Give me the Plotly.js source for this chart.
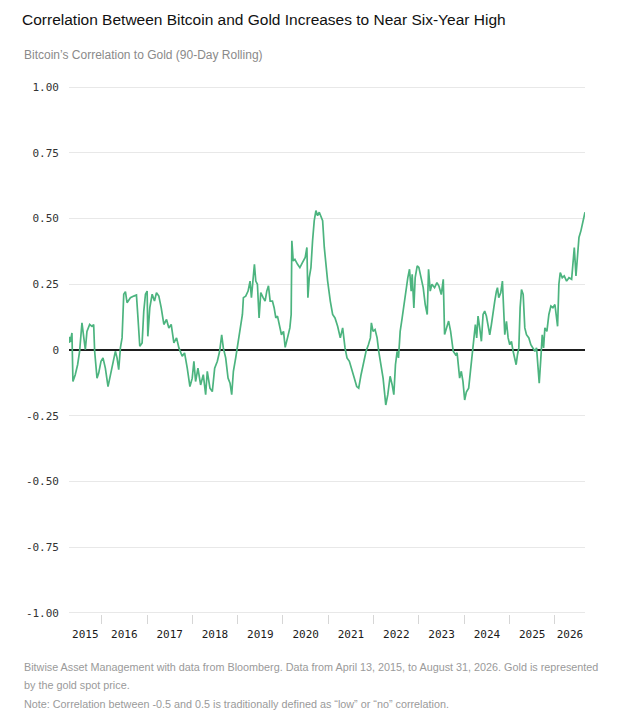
<!DOCTYPE html>
<html>
<head>
<meta charset="utf-8">
<script src="https://cdn.plot.ly/plotly-3.0.1.min.js"></script>
<style>
  html, body { margin: 0; padding: 0; background: #fff; }
  #chart { width: 623px; height: 717px; }
</style>
</head>
<body>
<div id="chart"></div>
<script>
// decimal year of each reading (data runs Apr 13 2015 to Aug 31 2026)
var years = [
  2015.279, 2015.290, 2015.307, 2015.344, 2015.366, 2015.417, 2015.469, 2015.513, 2015.565, 2015.602,
  2015.639, 2015.675, 2015.735, 2015.786, 2015.823, 2015.845, 2015.897, 2015.934, 2015.985, 2016.029,
  2016.081, 2016.140, 2016.192, 2016.251, 2016.302, 2016.339, 2016.376, 2016.413, 2016.450, 2016.487,
  2016.524, 2016.560, 2016.634, 2016.708, 2016.767, 2016.796, 2016.841, 2016.892, 2016.929, 2016.966,
  2017.003, 2017.018, 2017.062, 2017.114, 2017.165, 2017.209, 2017.261, 2017.313, 2017.372, 2017.431,
  2017.482, 2017.534, 2017.593, 2017.652, 2017.704, 2017.777, 2017.829, 2017.888, 2017.947, 2017.998,
  2018.035, 2018.072, 2018.124, 2018.183, 2018.242, 2018.294, 2018.330, 2018.389, 2018.441, 2018.493,
  2018.552, 2018.603, 2018.648, 2018.684, 2018.736, 2018.788, 2018.832, 2018.869, 2018.906, 2018.957,
  2018.994, 2019.031, 2019.068, 2019.105, 2019.127, 2019.178, 2019.230, 2019.274, 2019.304, 2019.348,
  2019.370, 2019.400, 2019.436, 2019.473, 2019.510, 2019.562, 2019.606, 2019.643, 2019.680, 2019.717,
  2019.768, 2019.805, 2019.842, 2019.879, 2019.916, 2019.967, 2020.012, 2020.049, 2020.100, 2020.152,
  2020.181, 2020.196, 2020.226, 2020.263, 2020.322, 2020.373, 2020.432, 2020.491, 2020.528, 2020.550,
  2020.580, 2020.617, 2020.653, 2020.690, 2020.727, 2020.764, 2020.801, 2020.838, 2020.875, 2020.912,
  2020.950, 2020.985, 2021.044, 2021.096, 2021.148, 2021.206, 2021.265, 2021.317, 2021.369, 2021.413,
  2021.465, 2021.516, 2021.575, 2021.627, 2021.671, 2021.723, 2021.782, 2021.833, 2021.885, 2021.929,
  2021.951, 2021.988, 2022.032, 2022.077, 2022.113, 2022.165, 2022.209, 2022.239, 2022.268, 2022.313,
  2022.364, 2022.409, 2022.446, 2022.482, 2022.519, 2022.549, 2022.586, 2022.630, 2022.681, 2022.718,
  2022.755, 2022.792, 2022.829, 2022.851, 2022.888, 2022.917, 2022.962, 2022.998, 2023.050, 2023.094,
  2023.139, 2023.183, 2023.212, 2023.249, 2023.286, 2023.345, 2023.397, 2023.441, 2023.493, 2023.537,
  2023.566, 2023.603, 2023.655, 2023.699, 2023.757, 2023.809, 2023.842, 2023.861, 2023.898, 2023.935,
  2023.972, 2024.009, 2024.046, 2024.097, 2024.142, 2024.178, 2024.215, 2024.245, 2024.274, 2024.304,
  2024.341, 2024.378, 2024.415, 2024.451, 2024.488, 2024.525, 2024.562, 2024.599, 2024.636, 2024.673,
  2024.710, 2024.732, 2024.761, 2024.805, 2024.842, 2024.864, 2024.894, 2024.931, 2024.968, 2025.004,
  2025.041, 2025.078, 2025.115, 2025.145, 2025.174, 2025.204, 2025.233, 2025.263, 2025.300, 2025.336,
  2025.373, 2025.425, 2025.469, 2025.521, 2025.558, 2025.595, 2025.632, 2025.654, 2025.690, 2025.720,
  2025.750, 2025.779, 2025.823, 2025.867, 2025.912, 2025.956, 2026.000, 2026.037, 2026.059, 2026.088,
  2026.118, 2026.162, 2026.206, 2026.258, 2026.310, 2026.369, 2026.406, 2026.428, 2026.465, 2026.501,
  2026.531, 2026.575, 2026.604, 2026.634, 2026.664
];

var corr = [
  0.027, 0.05, 0.03, 0.065, -0.12, -0.094, -0.056, -0.005, 0.103, 0.046,
  0.001, 0.071, 0.097, 0.09, 0.097, -0.005, -0.107, -0.088, -0.043, -0.03,
  -0.069, -0.139, -0.094, -0.043, -0.005, -0.03, -0.075, 0.008, 0.046, 0.212,
  0.222, 0.18, 0.199, 0.205, 0.209, 0.135, 0.014, 0.027, 0.148, 0.212,
  0.224, 0.052, 0.161, 0.212, 0.186, 0.218, 0.205, 0.161, 0.097, 0.116,
  0.084, 0.097, 0.027, 0.046, 0.008, -0.024, -0.011, -0.069, -0.139, -0.107,
  -0.043, -0.12, -0.069, -0.133, -0.094, -0.17, -0.081, -0.145, -0.158, -0.069,
  -0.043, -0.005, 0.058, 0.008, -0.03, -0.107, -0.126, -0.17, -0.081, -0.03,
  0.008, 0.046, 0.091, 0.135, 0.199, 0.205, 0.224, 0.262, 0.199, 0.288,
  0.326, 0.262, 0.25, 0.122, 0.218, 0.199, 0.186, 0.224, 0.244, 0.186,
  0.186, 0.161, 0.122, 0.129, 0.103, 0.058, 0.071, 0.01, 0.046, 0.084,
  0.135, 0.415, 0.339, 0.345, 0.326, 0.313, 0.333, 0.352, 0.39, 0.199,
  0.275, 0.313, 0.415, 0.492, 0.53, 0.511, 0.524, 0.511, 0.492, 0.39,
  0.313, 0.263, 0.186, 0.135, 0.122, 0.09, 0.046, 0.084, 0.008, -0.03,
  -0.043, -0.069, -0.107, -0.139, -0.145, -0.094, -0.043, -0.005, 0.02, 0.046,
  0.103, 0.071, 0.078, 0.046, -0.005, -0.056, -0.107, -0.158, -0.209, -0.17,
  -0.1, -0.132, -0.17, -0.056, -0.005, -0.03, 0.071, 0.122, 0.186, 0.237,
  0.275, 0.307, 0.224, 0.288, 0.16, 0.275, 0.32, 0.314, 0.275, 0.237,
  0.173, 0.135, 0.307, 0.224, 0.25, 0.237, 0.256, 0.243, 0.211, 0.269,
  0.059, 0.084, 0.11, 0.071, -0.005, -0.018, -0.011, -0.043, -0.107, -0.081,
  -0.12, -0.19, -0.16, -0.145, -0.069, 0.008, 0.058, 0.097, 0.046, 0.129,
  0.084, 0.033, 0.135, 0.148, 0.129, 0.084, 0.058, 0.097, 0.148, 0.186,
  0.224, 0.237, 0.199, 0.218, 0.262, 0.186, 0.058, 0.109, 0.046, 0.02,
  0.033, -0.005, -0.03, -0.056, -0.018, 0.008, 0.161, 0.23, 0.211, 0.084,
  0.058, 0.046, 0.02, 0.008, -0.005, 0.008, -0.081, -0.126, -0.03, 0.058,
  0.008, 0.084, 0.071, 0.135, 0.167, 0.161, 0.173, 0.109, 0.09, 0.25,
  0.294, 0.275, 0.282, 0.262, 0.275, 0.269, 0.339, 0.39, 0.282, 0.352,
  0.428, 0.454, 0.479, 0.511, 0.524
];

var yearLabels = ['2015', '2016', '2017', '2018', '2019', '2020', '2021', '2022', '2023', '2024', '2025', '2026'];
var yearStarts = [2016, 2017, 2018, 2019, 2020, 2021, 2022, 2023, 2024, 2025, 2026];
var yTickVals = [1, 0.75, 0.5, 0.25, 0, -0.25, -0.5, -0.75, -1];
var yTickText = ['1.00', '0.75', '0.50', '0.25', '0', '-0.25', '-0.50', '-0.75', '-1.00'];

var xStart = years[0];
var xEnd = years[years.length - 1];

// year label sits in the middle of the visible part of each year
var labelPos = yearLabels.map(function (y) {
  var a = Math.max(+y, xStart);
  var b = Math.min(+y + 1, xEnd);
  return (a + b) / 2;
});

var trace = {
  x: years,
  y: corr,
  type: 'scatter',
  mode: 'lines',
  line: { color: '#4cb47f', width: 1.7 },
  hoverinfo: 'x+y'
};

// empty trace so the label axis is drawn
var labelTrace = { x: [], y: [], xaxis: 'x2', type: 'scatter', mode: 'lines', hoverinfo: 'skip', showlegend: false };

var noteFont = { family: 'Liberation Sans, Arial, sans-serif', size: 10.8, color: '#9a9a9a' };
var left = -47 / 516;

var layout = {
  width: 623,
  height: 717,
  margin: { l: 69, r: 38, t: 86, b: 103 },
  paper_bgcolor: '#fff',
  plot_bgcolor: '#fff',
  showlegend: false,
  title: {
    text: 'Correlation Between Bitcoin and Gold Increases to Near Six-Year High',
    x: 22 / 623, xanchor: 'left', xref: 'container',
    y: 1 - 20 / 717, yanchor: 'middle', yref: 'container',
    font: { family: 'Liberation Sans, Arial, sans-serif', size: 15.5, color: '#111' }
  },
  xaxis: {
    range: [xStart, xEnd],
    tickvals: yearStarts,
    showticklabels: false,
    ticks: 'outside',
    ticklen: 9,
    tickwidth: 1,
    tickcolor: '#d6d6d6',
    showgrid: false,
    zeroline: false,
    showline: false
  },
  xaxis2: {
    overlaying: 'x',
    anchor: 'y',
    side: 'bottom',
    range: [xStart, xEnd],
    tickvals: labelPos,
    ticktext: yearLabels,
    ticks: '',
    ticklabelstandoff: 12,
    showgrid: false,
    zeroline: false,
    showline: false,
    tickfont: { family: 'DejaVu Sans Mono, monospace', size: 11, color: '#1a1a1a' }
  },
  yaxis: {
    range: [-1.004, 1.004],
    tickvals: yTickVals,
    ticktext: yTickText,
    ticks: '',
    ticklabelstandoff: 9,
    showgrid: true,
    gridcolor: '#e8e8e8',
    gridwidth: 1,
    zeroline: true,
    zerolinecolor: '#1e1e1e',
    zerolinewidth: 2,
    showline: false,
    tickfont: { family: 'DejaVu Sans Mono, monospace', size: 11, color: '#333' }
  },
  annotations: [
    {
      text: 'Bitcoin\u2019s Correlation to Gold (90-Day Rolling)',
      xref: 'paper', yref: 'paper',
      x: left, xanchor: 'left',
      y: 1 + (86 - 55) / 528, yanchor: 'middle',
      showarrow: false,
      font: { family: 'Liberation Sans, Arial, sans-serif', size: 12, color: '#8a8a8a' }
    },
    {
      text: 'Bitwise Asset Management with data from Bloomberg. Data from April 13, 2015, to August 31, 2026. Gold is represented',
      xref: 'paper', yref: 'paper',
      x: left, xanchor: 'left', align: 'left',
      y: -(667 - 614) / 528, yanchor: 'middle',
      showarrow: false,
      font: noteFont
    },
    {
      text: 'by the gold spot price.',
      xref: 'paper', yref: 'paper',
      x: left, xanchor: 'left', align: 'left',
      y: -(685 - 614) / 528, yanchor: 'middle',
      showarrow: false,
      font: noteFont
    },
    {
      text: 'Note: Correlation between -0.5 and 0.5 is traditionally defined as \u201clow\u201d or \u201cno\u201d correlation.',
      xref: 'paper', yref: 'paper',
      x: left, xanchor: 'left', align: 'left',
      y: -(704 - 614) / 528, yanchor: 'middle',
      showarrow: false,
      font: noteFont
    }
  ]
};

Plotly.newPlot('chart', [trace, labelTrace], layout, { displayModeBar: false, staticPlot: true });
</script>
</body>
</html>
